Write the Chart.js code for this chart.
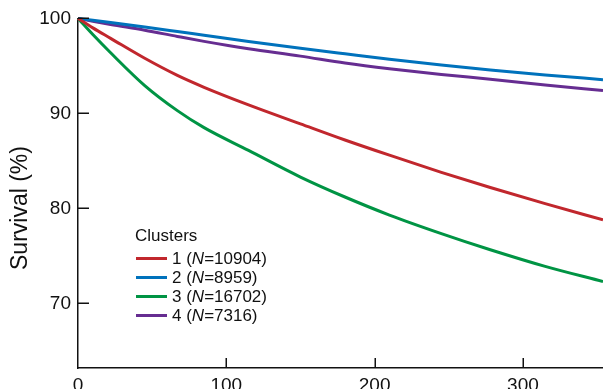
<!DOCTYPE html>
<html>
<head>
<meta charset="utf-8">
<script src="https://cdn.jsdelivr.net/npm/chart.js@4/dist/chart.umd.min.js"></script>
<style>
  html, body { margin: 0; padding: 0; background: #fff; }
  #wrap { position: relative; width: 603px; height: 389px; overflow: hidden; }
  #chart { display: block; }
  #legend {
    position: absolute; left: 135px; top: 226px;
    font-family: "Liberation Sans", Arial, sans-serif; font-size: 17px; color: #111;
  }
  #legend .legend-title { line-height: 20px; margin-bottom: 3px; }
  #legend .legend-row { display: flex; align-items: center; height: 19px; }
  #legend .swatch { width: 31px; height: 3px; margin: 0 5px 0 1px; }
</style>
</head>
<body>
<div id="wrap">
  <canvas id="chart" width="603" height="389"></canvas>
  <div id="legend"></div>
</div>
<script>
const DAYS = [0, 10, 22, 45, 67, 85, 115, 150, 180, 210, 245, 278, 315, 354];

const CLUSTER_IDS = ["1", "2", "3", "4"];
const CLUSTER_N = [10904, 8959, 16702, 7316];
const CLUSTER_COLORS = ["#c1272d", "#0072bc", "#009444", "#662d91"];

const SURV_1 = [100, 99.0, 97.9, 95.8, 94.0, 92.75, 90.9, 88.9, 87.2, 85.6, 83.8, 82.2, 80.5, 78.8];
const SURV_2 = [100, 99.8, 99.56, 99.1, 98.62, 98.22, 97.56, 96.85, 96.27, 95.7, 95.1, 94.57, 94.05, 93.55];
const SURV_3 = [100, 98.3, 96.38, 92.93, 90.29, 88.5, 86.1, 83.3, 81.2, 79.3, 77.35, 75.65, 73.9, 72.3];
const SURV_4 = [100, 99.7, 99.36, 98.76, 98.1, 97.58, 96.8, 96.03, 95.3, 94.7, 94.1, 93.6, 93.0, 92.4];
const SURVIVAL = [SURV_1, SURV_2, SURV_3, SURV_4];

const X_TICKS = [0, 100, 200, 300];
const Y_TICKS = [70, 80, 90, 100];
const Y_TITLE = "Survival (%)";
const LEGEND_TITLE = "Clusters";

const FONT = "'Liberation Sans', Arial, sans-serif";
const INK = "#111";

// inward tick marks plus the rotated y title
const axisExtras = {
  id: "axisExtras",
  afterDraw(chart) {
    const { ctx, chartArea } = chart;
    const xs = chart.scales.x;
    const ys = chart.scales.y;
    ctx.save();
    ctx.strokeStyle = INK;
    ctx.lineWidth = 1.5;
    ctx.beginPath();
    for (const v of Y_TICKS) {
      const y = Math.round(ys.getPixelForValue(v)) + 0.25;
      ctx.moveTo(chartArea.left, y);
      ctx.lineTo(chartArea.left + 11, y);
    }
    for (const v of X_TICKS) {
      if (v === 0) continue;
      const x = Math.round(xs.getPixelForValue(v)) + 0.25;
      ctx.moveTo(x, chartArea.bottom);
      ctx.lineTo(x, chartArea.bottom - 10);
    }
    ctx.stroke();

    ctx.translate(21, 208);
    ctx.rotate(-Math.PI / 2);
    ctx.fillStyle = INK;
    ctx.font = "23px " + FONT;
    ctx.textAlign = "center";
    ctx.textBaseline = "middle";
    ctx.fillText(Y_TITLE, 0, 0);
    ctx.restore();
  },
};

function renderLegend(datasets) {
  const rows = datasets.map((ds, i) => `
    <div class="legend-row">
      <span class="swatch" style="background:${ds.borderColor}"></span>
      <span>${CLUSTER_IDS[i]} (<i>N</i>=${CLUSTER_N[i]})</span>
    </div>`).join("");
  document.getElementById("legend").innerHTML =
    `<div class="legend-title">${LEGEND_TITLE}</div>${rows}`;
}

const datasets = SURVIVAL.map((series, i) => ({
  label: CLUSTER_IDS[i],
  data: series.map((s, k) => ({ x: DAYS[k], y: s })),
  borderColor: CLUSTER_COLORS[i],
  backgroundColor: CLUSTER_COLORS[i],
  borderWidth: 3,
  pointRadius: 0,
  cubicInterpolationMode: "monotone",
  fill: false,
  clip: false,
}));

const chart = new Chart(document.getElementById("chart").getContext("2d"), {
  type: "line",
  data: { datasets },
  options: {
    responsive: false,
    devicePixelRatio: 1,
    animation: false,
    layout: { padding: { top: 17, left: 0, right: 0, bottom: 0 } },
    plugins: { legend: { display: false }, tooltip: { enabled: false } },
    scales: {
      x: {
        type: "linear",
        min: 0,
        max: 354,
        grid: { display: false, drawTicks: false },
        border: { display: true, color: INK, width: 1.5 },
        afterBuildTicks: (s) => { s.ticks = X_TICKS.map((v) => ({ value: v })); },
        afterFit: (s) => { s.height = 21; },
        ticks: { color: INK, padding: 6, maxRotation: 0, font: { family: FONT, size: 19 } },
      },
      y: {
        type: "linear",
        min: 63.2,
        max: 100,
        grid: { display: false, drawTicks: false },
        border: { display: true, color: INK, width: 1.5 },
        afterBuildTicks: (s) => { s.ticks = Y_TICKS.map((v) => ({ value: v })); },
        afterFit: (s) => { s.width = 78; },
        ticks: { color: INK, padding: 7, font: { family: FONT, size: 19 } },
      },
    },
  },
  plugins: [axisExtras],
});

renderLegend(chart.data.datasets);
</script>
</body>
</html>
